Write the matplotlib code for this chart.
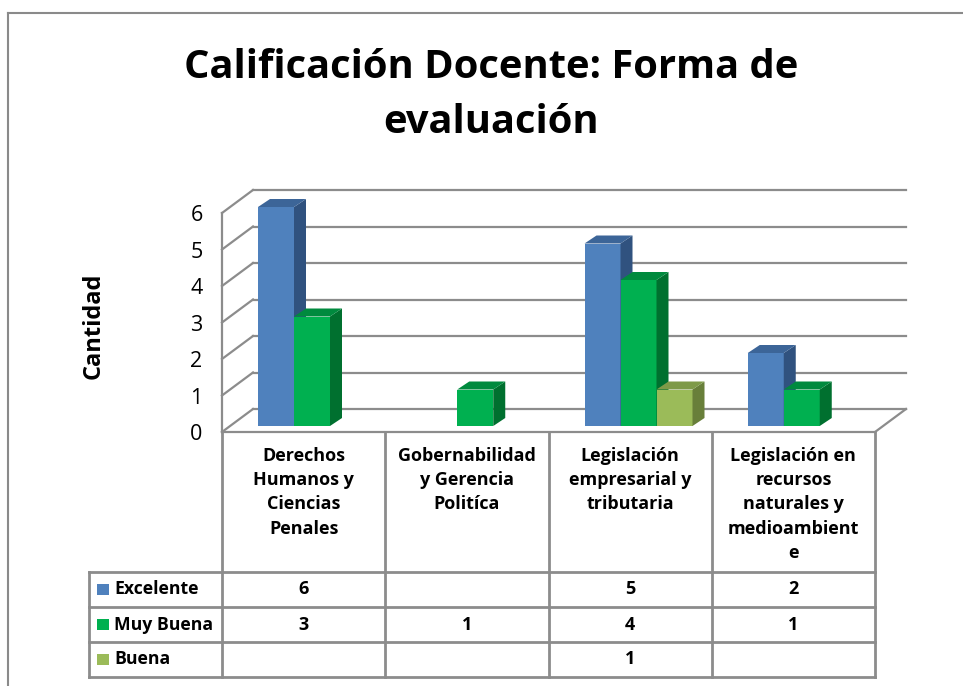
import numpy as np
import matplotlib
matplotlib.use('Agg')
from matplotlib import pyplot as plt
from matplotlib.patches import Rectangle
from matplotlib.lines import Line2D

plt.rcParams['font.family'] = ['Open Sans', 'DejaVu Sans']

categories = ['Derechos\nHumanos y\nCiencias\nPenales',
              'Gobernabilidad\ny Gerencia\nPolitíca',
              'Legislación\nempresarial y\ntributaria',
              'Legislación en\nrecursos\nnaturales y\nmedioambient\ne']
series_names = ['Excelente', 'Muy Buena', 'Buena']
excelente = [6, None, 5, 2]
muy_buena = [3, 1, 4, 1]
buena = [None, None, 1, None]
series = [excelente, muy_buena, buena]
title_lines = ['Calificación Docente: Forma de', 'evaluación']

front_col = ['#4F81BD', '#00B050', '#9BBB59']
side_col = ['#30527F', '#00702F', '#687F3A']
top_col = ['#3C6598', '#008A3E', '#7E9A48']
grid_col = '#8C8C8C'

W, H = 963, 686
fig = plt.figure(figsize=(W / 100, H / 100), dpi=100)

# outer chart border (cut off on right / bottom)
fig.add_artist(Line2D([8 / W, 8 / W], [0, 1 - 13 / H], transform=fig.transFigure,
                      color='#8A8A8A', lw=1.5))
fig.add_artist(Line2D([8 / W, 1], [1 - 13 / H, 1 - 13 / H], transform=fig.transFigure,
                      color='#8A8A8A', lw=1.5))

for k, line in enumerate(title_lines):
    fig.text(491 / W, 1 - (78 + 55 * k) / H, line, ha='center', va='baseline',
             fontsize=28.7, fontweight='bold')

# main (front plane) axes
ax = fig.add_axes([222 / W, 1 - 432 / H, 653 / W, 219 / H])
ax.set_xlim(0, 4)
ax.set_ylim(0, 6)
for s in ax.spines.values():
    s.set_visible(False)
ax.set_xticks([])
ax.set_yticks(range(7))
ax.tick_params(axis='y', length=0, pad=14, labelsize=15.5)
ax.patch.set_alpha(0)

# 3D offsets (data units)
dxb, dyb = 31 / 163.25, 23 / 36.5
bx, by = 8 / 163.25, 6 / 36.5
ddx, ddy = 12 / 163.25, 8 / 36.5
bw = 36 / 163.25
lw = 1.6

for v in range(7):
    ax.plot([dxb, 4 + dxb], [v + dyb, v + dyb], color=grid_col, lw=lw, clip_on=False, zorder=1)
    ax.plot([0, dxb], [v, v + dyb], color=grid_col, lw=lw, clip_on=False, zorder=1)
ax.plot([0, 0], [0, 6], color=grid_col, lw=lw, clip_on=False, zorder=1)
ax.plot([0, 4], [0, 0], color=grid_col, lw=lw, clip_on=False, zorder=1)
ax.plot([4, 4 + dxb], [0, dyb], color=grid_col, lw=lw, clip_on=False, zorder=1)

z = 2
for i in range(len(categories)):
    for j, vals in enumerate(series):
        v = vals[i]
        if v is None:
            continue
        x0 = i + bx + 28 / 163.25 + j * bw
        ax.bar(x0, v, width=bw, bottom=by, align='edge', color=front_col[j],
               lw=0, zorder=z, clip_on=False)
        x1 = x0 + bw
        ax.fill([x1, x1 + ddx, x1 + ddx, x1], [by, by + ddy, by + v + ddy, by + v],
                color=side_col[j], lw=0, zorder=z, clip_on=False)
        ax.fill([x0, x1, x1 + ddx, x0 + ddx], [by + v, by + v, by + v + ddy, by + v + ddy],
                color=top_col[j], lw=0, zorder=z, clip_on=False)
        z += 1

ax.text((94 - 222) / 653, (432 - 326) / 219, 'Cantidad', transform=ax.transAxes,
        rotation=90, ha='center', va='center', fontsize=17, fontweight='bold')

# data table
tax = fig.add_axes([89 / W, 1 - 677 / H, 786 / W, 245 / H])
leg_w = 133 / 163.25
tax.set_xlim(-leg_w, 4)
tax.set_ylim(7, 0)
tax.axis('off')
tab_lw = 2.0
for xv in range(5):
    tax.plot([xv, xv], [0, 7], color=grid_col, lw=tab_lw, clip_on=False)
tax.plot([-leg_w, -leg_w], [4, 7], color=grid_col, lw=tab_lw, clip_on=False)
for yv in [4, 5, 6, 7]:
    tax.plot([-leg_w, 4], [yv, yv], color=grid_col, lw=tab_lw, clip_on=False)

for i, lab in enumerate(categories):
    tax.text(i + 0.5, 0.42, lab, ha='center', va='top', fontsize=13,
             fontweight='bold', linespacing=1.45)

for j, name in enumerate(series_names):
    yc = 4.5 + j
    tax.add_patch(Rectangle((-0.766, yc - 0.17), 12 / 163.25, 0.34,
                            color=front_col[j], lw=0))
    tax.text(-0.662, yc, name, ha='left', va='center', fontsize=12.7, fontweight='bold')
    for i, v in enumerate(series[j]):
        if v is not None:
            tax.text(i + 0.5, yc, str(v), ha='center', va='center',
                     fontsize=13, fontweight='bold')

fig.savefig('out.png', dpi=100, facecolor='white')
